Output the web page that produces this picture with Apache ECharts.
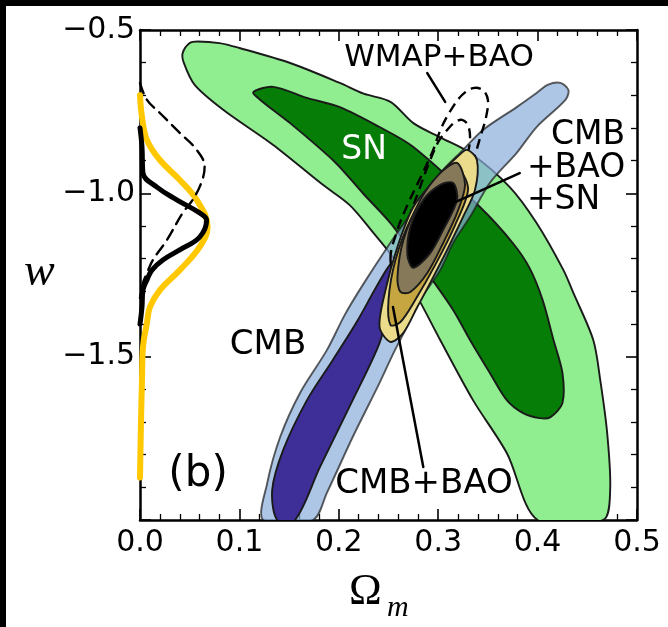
<!DOCTYPE html>
<html>
<head>
<meta charset="utf-8">
<script src="https://cdn.jsdelivr.net/npm/echarts@6/dist/echarts.min.js"></script>
<style>
  html, body { margin: 0; padding: 0; background: #000; }
  #main { position: absolute; left: 6px; top: 6px; width: 662px; height: 621px; background: #fff; }
</style>
</head>
<body>
<div id="main"></div>
<script>
// 等高线数据 [Omega_m, w]
var snOuter = [[0.043,-0.57],[0.050,-0.54],[0.058,-0.535],[0.080,-0.540],[0.100,-0.555],[0.151,-0.601],[0.201,-0.662],
  [0.225,-0.695],[0.252,-0.720],[0.275,-0.785],[0.303,-0.830],[0.332,-0.876],[0.372,-0.981],[0.399,-1.091],
  [0.426,-1.235],[0.436,-1.305],[0.456,-1.449],[0.463,-1.571],[0.470,-1.734],[0.473,-1.908],[0.466,-2.0],
  [0.400,-2.0],[0.369,-1.795],[0.335,-1.633],[0.302,-1.449],[0.279,-1.317],[0.255,-1.198],[0.234,-1.118],
  [0.211,-1.036],[0.184,-0.974],[0.134,-0.852],[0.084,-0.745],[0.055,-0.668],[0.044,-0.60]];
var snInner = [[0.114,-0.690],[0.134,-0.674],[0.168,-0.708],[0.201,-0.736],[0.241,-0.797],[0.275,-0.858],
  [0.342,-1.042],[0.375,-1.152],[0.392,-1.229],[0.405,-1.326],[0.416,-1.449],[0.425,-1.550],[0.425,-1.642],
  [0.413,-1.685],[0.402,-1.688],[0.385,-1.672],[0.369,-1.633],[0.352,-1.550],[0.332,-1.449],[0.315,-1.357],
  [0.292,-1.256],[0.272,-1.173],[0.252,-1.091],[0.224,-0.999],[0.196,-0.904],[0.151,-0.785],[0.121,-0.714]];
var cmbOuter = [[0.124,-2.0],[0.128,-1.887],[0.141,-1.746],[0.161,-1.611],[0.188,-1.480],[0.206,-1.372],
  [0.224,-1.281],[0.249,-1.164],[0.275,-1.051],[0.302,-0.938],[0.325,-0.867],[0.345,-0.806],[0.379,-0.736],
  [0.399,-0.693],[0.410,-0.668],[0.423,-0.662],[0.431,-0.684],[0.428,-0.714],[0.399,-0.797],[0.379,-0.876],
  [0.352,-0.968],[0.332,-1.072],[0.315,-1.152],[0.302,-1.235],[0.282,-1.326],[0.267,-1.418],[0.255,-1.489],
  [0.241,-1.580],[0.214,-1.746],[0.188,-1.917],[0.174,-2.0]];
var cmbInner = [[0.138,-2.0],[0.133,-1.908],[0.144,-1.786],[0.168,-1.633],[0.194,-1.510],[0.218,-1.394],
  [0.236,-1.296],[0.249,-1.229],[0.255,-1.210],[0.256,-1.240],[0.252,-1.326],[0.241,-1.458],[0.214,-1.633],
  [0.181,-1.838],[0.156,-2.0]];
var wmapOuter = [[0.252,-1.204],[0.259,-1.112],[0.269,-1.036],[0.282,-0.953],[0.295,-0.867],[0.303,-0.800],
  [0.314,-0.739],[0.324,-0.699],[0.335,-0.678],[0.345,-0.684],[0.350,-0.714],[0.348,-0.769],[0.343,-0.821],
  [0.338,-0.873],[0.330,-0.944],[0.317,-1.051],[0.302,-1.158],[0.282,-1.250],[0.262,-1.281]];
var wmapInner = [[0.262,-1.173],[0.270,-1.082],[0.280,-0.996],[0.290,-0.913],[0.300,-0.843],[0.309,-0.806],
  [0.317,-0.782],[0.324,-0.775],[0.330,-0.791],[0.332,-0.837],[0.328,-0.898],[0.320,-0.974],[0.308,-1.066],
  [0.294,-1.143],[0.277,-1.210]];
var cbOuter = [[0.329,-0.867],[0.339,-0.898],[0.337,-0.990],[0.325,-1.072],[0.309,-1.173],[0.292,-1.274],
  [0.279,-1.348],[0.265,-1.427],[0.252,-1.455],[0.241,-1.409],[0.247,-1.296],[0.259,-1.164],[0.275,-1.042],
  [0.299,-0.950],[0.319,-0.889]];
var cbInner = [[0.322,-0.929],[0.330,-0.990],[0.317,-1.097],[0.297,-1.219],[0.277,-1.326],[0.262,-1.394],
  [0.252,-1.403],[0.250,-1.326],[0.257,-1.204],[0.272,-1.082],[0.292,-0.990],[0.312,-0.935]];
var cbsOuter = [[0.319,-0.907],[0.327,-0.974],[0.319,-1.060],[0.305,-1.152],[0.289,-1.244],[0.272,-1.302],
  [0.262,-1.302],[0.259,-1.256],[0.265,-1.143],[0.282,-1.020],[0.302,-0.938]];
var cbsInner = [[0.315,-0.968],[0.319,-1.020],[0.305,-1.112],[0.292,-1.183],[0.275,-1.228],[0.269,-1.189],
  [0.272,-1.103],[0.285,-1.020],[0.302,-0.974]];

// 左侧一维分布曲线 [概率, w]
var margYellow = [[0.0,-0.70],[0.002,-0.766],[0.007,-0.837],[0.020,-0.898],[0.040,-0.959],[0.057,-1.020],
  [0.068,-1.103],[0.060,-1.164],[0.040,-1.235],[0.020,-1.296],[0.010,-1.348],[0.007,-1.397],[0.003,-1.470],
  [0.002,-1.571],[0.001,-1.70],[0.0,-1.87]];
var margBlack = [[0.0,-0.80],[0.002,-0.858],[0.003,-0.938],[0.017,-0.981],[0.037,-1.020],[0.060,-1.060],
  [0.067,-1.082],[0.060,-1.134],[0.040,-1.173],[0.023,-1.204],[0.012,-1.235],[0.007,-1.265],[0.003,-1.296],
  [0.002,-1.348],[0.0,-1.40]];
var margDashed = [[0.0,-0.662],[0.007,-0.714],[0.020,-0.754],[0.040,-0.815],[0.057,-0.867],[0.065,-0.919],
  [0.062,-0.965],[0.053,-1.020],[0.043,-1.060],[0.027,-1.143],[0.013,-1.204],[0.007,-1.244],[0.003,-1.274],
  [0.0,-1.32]];

// 标注
var pointerWmap = [[0.289,-0.632],[0.307,-0.720]];
var pointerCbs = [[0.382,-0.938],[0.315,-1.030]];
var pointerCb = [[0.2545,-1.348],[0.285,-1.838]];
var labelText = ["WMAP+BAO", "SN", "CMB", "+BAO", "+SN", "CMB", "CMB+BAO", "(b)"];
var labelPos = [[0.3008,-0.586],[0.2254,-0.870],[0.4507,-0.824],[0.3893,-0.925],[0.3893,-1.023],
  [0.1288,-1.464],[0.2857,-1.890],[0.0584,-1.862]];

var chart = echarts.init(document.getElementById("main"));

function poly(pts, fill, opacity, z, dash) {
  return {
    type: "custom",
    clip: true,
    silent: true,
    z: z,
    data: [pts[0]],
    renderItem: function (params, api) {
      var p = pts.map(function (d) { return api.coord(d); });
      return {
        type: "polygon",
        shape: { points: p, smooth: dash ? 0.35 : 0.3 },
        style: {
          fill: fill,
          stroke: dash ? "#000" : "#1a1a1a",
          lineWidth: dash ? 2.4 : 1.9,
          lineDash: dash ? [10, 6] : null,
          opacity: opacity
        }
      };
    }
  };
}

function curve(pts, color, width, dash, z) {
  return {
    type: "line",
    data: pts,
    smooth: 0.4,
    showSymbol: false,
    silent: true,
    z: z,
    lineStyle: { color: color, width: width, type: dash ? [11, 7] : "solid", cap: "round", join: "round" }
  };
}

var leftAlign = { 3: true, 4: true };
var labelSize = [31, 33, 33, 33, 33, 34, 34, 42];

var option = {
  animation: false,
  grid: { left: 134, top: 24, width: 497, height: 490 },
  xAxis: [
    {
      type: "value", min: 0, max: 0.5, interval: 0.1,
      axisLine: { onZero: false, lineStyle: { color: "#000", width: 2.5 } },
      axisTick: { inside: true, length: 11, lineStyle: { color: "#000", width: 1.6 } },
      minorTick: { show: true, splitNumber: 5, length: 6, lineStyle: { color: "#000", width: 1.3 } },
      splitLine: { show: false },
      axisLabel: { margin: 8, fontFamily: "DejaVu Sans", fontSize: 30, color: "#000",
        formatter: function (v) { return v.toFixed(1); } }
    },
    {
      type: "value", min: 0, max: 0.5, interval: 0.1, position: "top",
      axisLine: { onZero: false, lineStyle: { color: "#000", width: 2.5 } },
      axisTick: { inside: true, length: 11, lineStyle: { color: "#000", width: 1.6 } },
      minorTick: { show: true, splitNumber: 5, length: 6, lineStyle: { color: "#000", width: 1.3 } },
      splitLine: { show: false },
      axisLabel: { show: false }
    }
  ],
  yAxis: [
    {
      type: "value", min: -2.0, max: -0.5, interval: 0.5,
      axisLine: { onZero: false, lineStyle: { color: "#000", width: 2.5 } },
      axisTick: { inside: true, length: 11, lineStyle: { color: "#000", width: 1.6 } },
      minorTick: { show: true, splitNumber: 5, length: 6, lineStyle: { color: "#000", width: 1.3 } },
      splitLine: { show: false },
      axisLabel: { margin: 5, fontFamily: "DejaVu Sans", fontSize: 30, color: "#000",
        formatter: function (v) { return v <= -1.99 ? "" : v.toFixed(1).replace("-", "\u2212"); } }
    },
    {
      type: "value", min: -2.0, max: -0.5, interval: 0.5, position: "right",
      axisLine: { onZero: false, lineStyle: { color: "#000", width: 2.5 } },
      axisTick: { inside: true, length: 11, lineStyle: { color: "#000", width: 1.6 } },
      minorTick: { show: true, splitNumber: 5, length: 6, lineStyle: { color: "#000", width: 1.3 } },
      splitLine: { show: false },
      axisLabel: { show: false }
    }
  ],
  graphic: [
    { type: "text", left: 18, top: 244, style: { text: "w", font: "italic 46px 'Liberation Serif'", fill: "#000" } },
    { type: "text", left: 343, top: 564, style: { text: "\u03A9", font: "44px 'Liberation Serif'", fill: "#000" } },
    { type: "text", left: 381, top: 587, style: { text: "m", font: "italic 30px 'Liberation Serif'", fill: "#000" } }
  ],
  series: [
    curve(margYellow, "#ffc800", 6, false, 3),
    curve(margBlack, "#000", 5, false, 4),
    curve(margDashed, "#000", 2.4, true, 4),
    poly(snOuter, "#90ee90", 1, 5),
    poly(snInner, "#067d06", 1, 6),
    poly(cmbOuter, "#8aaedb", 0.7, 7),
    poly(cmbInner, "#3d2f97", 1, 8),
    poly(wmapOuter, "none", 1, 9, true),
    poly(wmapInner, "none", 1, 9, true),
    poly(cbOuter, "#ebdc8c", 1, 10),
    poly(cbInner, "#c6a640", 1, 11),
    poly(cbsOuter, "#86795a", 1, 12),
    poly(cbsInner, "#000", 1, 13),
    curve(pointerWmap, "#000", 2.5, false, 14),
    curve(pointerCbs, "#000", 2.5, false, 14),
    curve(pointerCb, "#000", 2.5, false, 14),
    {
      type: "custom",
      silent: true,
      z: 15,
      data: labelPos,
      renderItem: function (params, api) {
        var i = params.dataIndex;
        var c = api.coord(labelPos[i]);
        return {
          type: "text",
          x: c[0], y: c[1],
          style: {
            text: labelText[i],
            font: labelSize[i] + "px 'DejaVu Sans'",
            fill: i === 1 ? "#fff" : "#000",
            align: leftAlign[i] ? "left" : "center",
            verticalAlign: "middle"
          }
        };
      }
    }
  ]
};

chart.setOption(option);

window.addEventListener("resize", function () {
  chart.resize();
});
</script>
</body>
</html>
